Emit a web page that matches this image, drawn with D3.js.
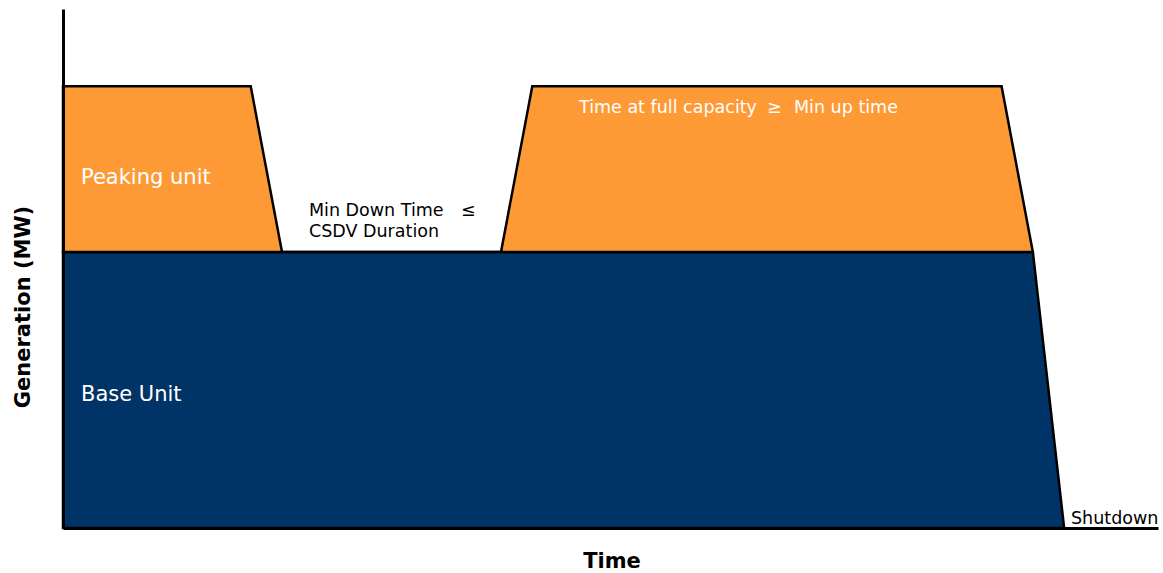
<!DOCTYPE html>
<html><head><meta charset="utf-8">
<script src="https://cdn.jsdelivr.net/npm/d3@7"></script>
<style>
body{margin:0;background:#fff;}
text{font-family:"DejaVu Sans",Verdana,sans-serif;}
</style></head>
<body>
<svg id="chart" width="1163" height="573"></svg>
<script>
// Time (arbitrary units) and generation (MW) profile
const time    = [0, 6, 7, 14, 15, 30, 31, 32];
const baseMW  = [100, 100, 100, 100, 100, 100, 100, 0];
const peakMW  = [60, 60, 0, 0, 60, 60, 0, 0];
const xDomain = [0, 35];
const yDomain = [0, 188];
const labels = {
  peaking: "Peaking unit",
  base: "Base Unit",
  minDown1: "Min Down Time",
  le: "≤",
  minDown2: "CSDV Duration",
  fullCap: "Time at full capacity",
  ge: "≥",
  minUp: "Min up time",
  shutdown: "Shutdown",
  xTitle: "Time",
  yTitle: "Generation (MW)"
};

const svg = d3.select("#chart");
const x = d3.scaleLinear().domain(xDomain).range([63, 1158]);
const y = d3.scaleLinear().domain(yDomain).range([528, 9]);

const data = time.map((t, i) => ({t, b: baseMW[i], p: peakMW[i]}));

const baseArea = d3.area().x(d => x(d.t)).y0(y(0)).y1(d => y(d.b));
const peakData = data.filter(d => d.t <= 31);
const peakArea = d3.area().x(d => x(d.t)).y0(d => y(d.b)).y1(d => y(d.b + d.p));

svg.append("path").datum(data).attr("d", baseArea)
  .attr("fill", "#003366").attr("stroke", "#000").attr("stroke-width", 2.5).attr("stroke-linejoin", "miter");
svg.append("path").datum(peakData).attr("d", peakArea)
  .attr("fill", "#FD9A36").attr("stroke", "#000").attr("stroke-width", 2.5).attr("stroke-linejoin", "miter");

// axes
const xAxis = d3.axisBottom(x).tickValues([]).tickSizeOuter(0);
const yAxis = d3.axisLeft(y).tickValues([]).tickSizeOuter(0);
svg.append("g").attr("transform", `translate(0,${y(0)})`).call(xAxis)
  .select(".domain").attr("stroke", "#000").attr("stroke-width", 3);
svg.append("g").attr("transform", `translate(${x(0)},0)`).call(yAxis)
  .select(".domain").attr("stroke", "#000").attr("stroke-width", 3);

function txt(s, px, py, size, fill, weight, anchor) {
  return svg.append("text").attr("x", px).attr("y", py).text(s)
    .attr("font-size", size).attr("fill", fill)
    .attr("font-weight", weight || "normal").attr("text-anchor", anchor || "start");
}
txt(labels.peaking, 81, 184, 21, "#fff");
txt(labels.base, 81, 401, 21, "#fff");
txt(labels.minDown1, 309, 216, 17.5, "#000");
txt(labels.le, 461, 216, 17.5, "#000");
txt(labels.minDown2, 309, 237, 17.5, "#000");
txt(labels.fullCap, 579, 113, 17.5, "#fff");
txt(labels.ge, 767, 113, 17.5, "#fff");
txt(labels.minUp, 794, 113, 17.5, "#fff");
txt(labels.shutdown, 1071, 524, 17.5, "#000");
txt(labels.xTitle, 612, 568, 21, "#000", "bold", "middle");
svg.append("text").attr("transform", "translate(30,307) rotate(-90)")
  .attr("text-anchor", "middle").attr("font-size", 21).attr("font-weight", "bold")
  .attr("fill", "#000").text(labels.yTitle);
</script>
</body></html>
